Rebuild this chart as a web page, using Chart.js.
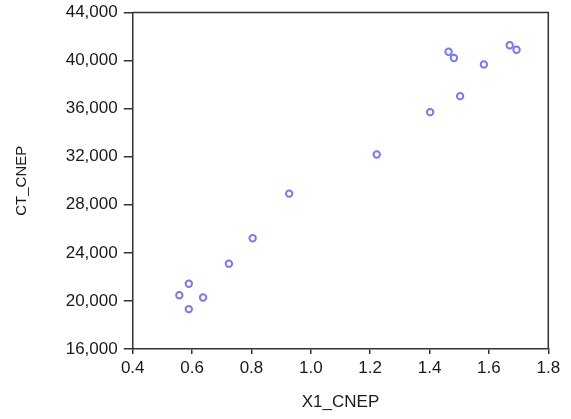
<!DOCTYPE html>
<html>
<head>
<meta charset="utf-8">
<script src="https://cdn.jsdelivr.net/npm/chart.js@4/dist/chart.umd.min.js"></script>
<style>
  html, body { margin: 0; padding: 0; background: #fff; }
  #wrap { width: 571px; height: 419px; position: relative; }
</style>
</head>
<body>
<div id="wrap"><canvas id="c" width="571" height="419"></canvas></div>
<script>
// Data
const x1Cnep = [0.557, 0.589, 0.589, 0.637, 0.724, 0.804, 0.927, 1.222, 1.402, 1.503, 1.464, 1.482, 1.583, 1.670, 1.693];
const ctCnep = [20480, 21430, 19320, 20290, 23100, 25210, 28930, 32180, 35710, 37040, 40730, 40210, 39680, 41270, 40900];
const xTickLabels = ['0.4', '0.6', '0.8', '1.0', '1.2', '1.4', '1.6', '1.8'];
const yTickLabels = ['16,000', '20,000', '24,000', '28,000', '32,000', '36,000', '40,000', '44,000'];
const xTitle = 'X1_CNEP';
const yTitle = 'CT_CNEP';

const points = x1Cnep.map((v, i) => ({ x: v, y: ctCnep[i] }));

const framePlugin = {
  id: 'frame',
  afterDraw(chart) {
    const { ctx, chartArea: a } = chart;
    ctx.save();
    ctx.strokeStyle = '#333';
    ctx.lineWidth = 1.5;
    ctx.beginPath();
    ctx.moveTo(a.left, a.top);
    ctx.lineTo(a.right, a.top);
    ctx.lineTo(a.right, a.bottom);
    ctx.stroke();
    ctx.restore();
  }
};

const tickFont = { family: 'Liberation Sans, Arial, sans-serif', size: 17 };

new Chart(document.getElementById('c'), {
  type: 'scatter',
  data: {
    datasets: [{
      data: points,
      pointRadius: 3.2,
      pointHoverRadius: 3.2,
      borderWidth: 2,
      pointBorderColor: '#7878ff',
      pointBackgroundColor: '#ffffff'
    }]
  },
  options: {
    responsive: false,
    animation: false,
    events: [],
    layout: { padding: { left: 0, right: 22.7, top: 12.5, bottom: 0 } },
    plugins: { legend: { display: false }, tooltip: { enabled: false } },
    scales: {
      x: {
        type: 'linear',
        min: 0.4, max: 1.8,
        afterFit(s) { s.height = 70; s.paddingLeft = 0; s.paddingRight = 0; },
        afterBuildTicks(s) { s.ticks = xTickLabels.map(t => ({ value: parseFloat(t) })); },
        ticks: {
          callback: (v) => xTickLabels.find(t => Math.abs(parseFloat(t) - v) < 1e-6) || '',
          color: '#1a1a1a', font: tickFont, padding: 4, maxRotation: 0, autoSkip: false
        },
        grid: { drawOnChartArea: false, drawTicks: true, tickLength: 5, color: '#333', lineWidth: 1.5 },
        border: { display: true, color: '#333', width: 1.5 },
        title: { display: true, text: xTitle, color: '#1a1a1a', font: { family: 'Liberation Sans, Arial, sans-serif', size: 17 }, padding: { top: 0, bottom: 6 } }
      },
      y: {
        type: 'linear',
        min: 16000, max: 44000,
        afterFit(s) { s.width = 132.7; s.paddingTop = 0; s.paddingBottom = 0; },
        afterBuildTicks(s) { s.ticks = yTickLabels.map(t => ({ value: parseFloat(t.replace(/,/g, '')) })); },
        ticks: {
          callback: (v) => yTickLabels.find(t => parseFloat(t.replace(/,/g, '')) === v) || '',
          color: '#1a1a1a', font: tickFont, padding: 6, autoSkip: false
        },
        grid: { drawOnChartArea: false, drawTicks: true, tickLength: 9, color: '#333', lineWidth: 1.5 },
        border: { display: true, color: '#333', width: 1.5 },
        title: { display: true, text: yTitle, color: '#1a1a1a', font: { family: 'Liberation Sans, Arial, sans-serif', size: 15 }, padding: { top: 13, bottom: 0 } }
      }
    }
  },
  plugins: [framePlugin]
});
</script>
</body>
</html>
